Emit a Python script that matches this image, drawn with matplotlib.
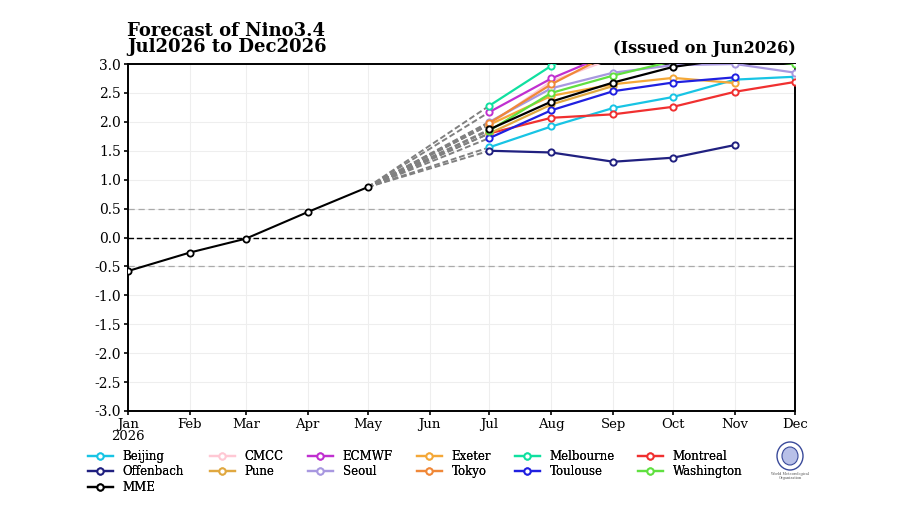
import pandas as pd
import matplotlib
matplotlib.use('Agg')
import matplotlib.pyplot as plt
from matplotlib.patches import Ellipse

plt.rcParams['font.family'] = 'DejaVu Serif'

# observed Nino3.4 anomalies
obs_months = pd.date_range('2026-01-01', '2026-05-01', freq='MS')
obs_values = [-0.58, -0.26, -0.02, 0.44, 0.87]

fc_months = pd.date_range('2026-07-01', '2026-12-01', freq='MS')

# forecasts per model (Jul..Dec), None = no value
beijing = [1.56, 1.92, 2.24, 2.43, 2.73, 2.78]
cmcc = [1.95, 2.70, 3.10, 3.30, 3.40, 3.40]
ecmwf = [2.17, 2.75, 3.20, 3.40, 3.50, None]
exeter = [1.95, 2.45, 2.65, 2.76, 2.67, None]
melbourne = [2.28, 2.97, 3.50, 3.80, 3.90, None]
montreal = [1.80, 2.07, 2.13, 2.26, 2.52, 2.69]
offenbach = [1.50, 1.47, 1.31, 1.38, 1.60, None]
pune = [1.80, 2.30, 2.62, None, None, None]
seoul = [2.00, 2.58, 2.85, 2.98, 3.00, 2.85]
tokyo = [1.98, 2.65, 3.20, 3.40, 3.50, None]
toulouse = [1.72, 2.20, 2.53, 2.68, 2.77, None]
washington = [1.85, 2.50, 2.80, 3.05, 3.10, 3.00]
mme = [1.87, 2.35, 2.68, 2.95, 3.10, 3.15]

models = [
    ('Beijing', beijing, '#18c4e4'),
    ('CMCC', cmcc, '#ffc8d4'),
    ('ECMWF', ecmwf, '#c030d0'),
    ('Exeter', exeter, '#f4a838'),
    ('Melbourne', melbourne, '#10e0a0'),
    ('Montreal', montreal, '#f03030'),
    ('Offenbach', offenbach, '#202080'),
    ('Pune', pune, '#e0a840'),
    ('Seoul', seoul, '#a898e0'),
    ('Tokyo', tokyo, '#f08838'),
    ('Toulouse', toulouse, '#2020e0'),
    ('Washington', washington, '#60e040'),
    ('MME', mme, 'black'),
]

fig = plt.figure(figsize=(9, 5.05), dpi=100)
ax = fig.add_axes([128 / 900, 1 - 411 / 505, 667 / 900, 347 / 505])

month_ticks = pd.date_range('2026-01-01', '2026-12-01', freq='MS')
ax.set_xlim(month_ticks[0], month_ticks[-1])
ax.set_ylim(-3.0, 3.0)
ax.set_xticks(month_ticks)
labels = [d.strftime('%b') for d in month_ticks]
labels[0] = 'Jan\n2026'
ax.set_xticklabels(labels, fontsize=9.5, linespacing=0.95)
ax.set_yticks([i * 0.5 for i in range(-6, 7)])
ax.set_yticklabels([f'{i * 0.5:.1f}' for i in range(-6, 7)], fontsize=10)
ax.tick_params(length=3, width=1.2, direction='out', pad=2)
ax.grid(True, color='#eeeeee', linewidth=0.8)
for s in ax.spines.values():
    s.set_linewidth(1.4)

ax.axhline(0, color='black', linestyle='--', linewidth=1.0, dashes=(4, 2))
ax.axhline(0.5, color='#aaaaaa', linestyle='--', linewidth=0.9, dashes=(5, 3))
ax.axhline(-0.5, color='#aaaaaa', linestyle='--', linewidth=0.9, dashes=(5, 3))

# dashed connectors from last observation to first forecast
for name, vals, col in models:
    ax.plot([obs_months[-1], fc_months[0]], [obs_values[-1], vals[0]],
            color='#808080', linestyle='--', linewidth=1.4, dashes=(3, 1.5), zorder=2)

handles = {}
for name, vals, col in models:
    xs = [m for m, v in zip(fc_months, vals) if v is not None]
    ys = [v for v in vals if v is not None]
    h, = ax.plot(xs, ys, color=col, linewidth=1.6, marker='o', markersize=4.5,
                 markerfacecolor='white', markeredgewidth=1.4, zorder=3)
    handles[name] = h

ax.plot(obs_months, obs_values, color='black', linewidth=1.5, marker='o',
        markersize=4.5, markerfacecolor='white', markeredgewidth=1.3, zorder=4)

fig.text(127 / 900, 1 - 22 / 505, 'Forecast of Nino3.4\nJul2026 to Dec2026',
         ha='left', va='top', fontsize=13, fontweight='bold', linespacing=0.88)
fig.text(796 / 900, 1 - 53 / 505, '(Issued on Jun2026)', ha='right', va='baseline',
         fontsize=11.5, fontweight='bold')

# legend, one column at a time
columns = [['Beijing', 'Offenbach', 'MME'], ['CMCC', 'Pune'], ['ECMWF', 'Seoul'],
           ['Exeter', 'Tokyo'], ['Melbourne', 'Toulouse'], ['Montreal', 'Washington']]
col_x = [83, 205, 303, 412, 510, 633]
for cx, names in zip(col_x, columns):
    leg = fig.legend([handles[n] for n in names], names, loc='upper left',
                     bbox_to_anchor=(cx / 900, 1 - 445 / 505), frameon=False,
                     fontsize=8.5, handlelength=2.1, handletextpad=0.85,
                     labelspacing=0.23, borderaxespad=0)
    fig.add_artist(leg)

# simple emblem in place of logo
fig.add_artist(Ellipse((790 / 900, 1 - 456 / 505), 26 / 900, 28 / 505,
                       transform=fig.transFigure, facecolor='white',
                       edgecolor='#3a4a9a', linewidth=1.0))
fig.add_artist(Ellipse((790 / 900, 1 - 456 / 505), 16 / 900, 18 / 505,
                       transform=fig.transFigure, facecolor='#b8c0e8',
                       edgecolor='#3a4a9a', linewidth=0.8))
fig.text(790 / 900, 1 - 476 / 505, 'World Meteorological\nOrganization', ha='center',
         va='center', fontsize=2.5, color='#555555')

fig.savefig('out.png', dpi=100, facecolor='white')
